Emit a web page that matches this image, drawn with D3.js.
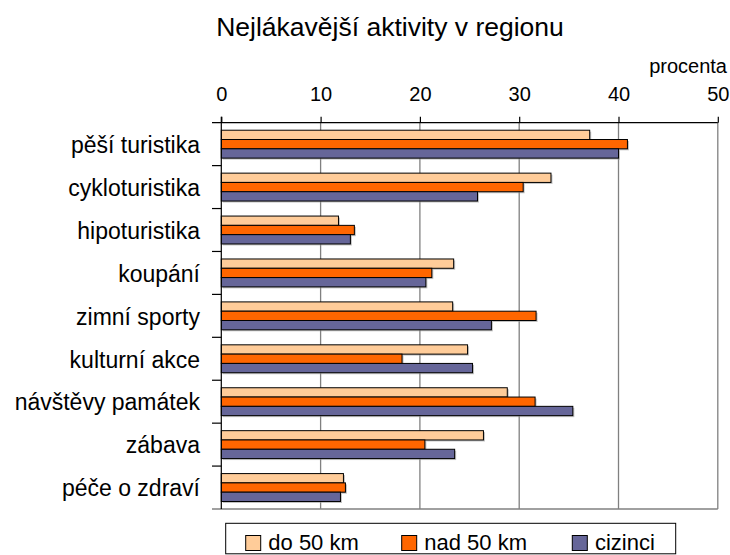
<!DOCTYPE html>
<html><head><meta charset="utf-8">
<script src="https://cdn.jsdelivr.net/npm/d3@7"></script>
<style>body{margin:0;background:#fff}svg{display:block;font-family:"Liberation Sans",Arial,sans-serif}</style>
</head><body><svg id="c" width="730" height="555"></svg>
<script>
const title = "Nejlákavější aktivity v regionu";
const unitLabel = "procenta";
const categories = ["pěší turistika","cykloturistika","hipoturistika","koupání","zimní sporty","kulturní akce","návštěvy památek","zábava","péče o zdraví"];
const seriesNames = ["do 50 km","nad 50 km","cizinci"];
const doPadesat = [37.1,33.2,11.8,23.4,23.3,24.8,28.8,26.4,12.3];
const nadPadesat = [40.9,30.4,13.4,21.2,31.7,18.2,31.6,20.5,12.5];
const cizinci = [40.0,25.8,13.0,20.6,27.2,25.3,35.4,23.5,12.0];
const tickValues = [0,10,20,30,40,50];
const colors = ["#FFCC99","#FF6600","#666699"];

const seriesValues = [doPadesat, nadPadesat, cizinci];
const svg = d3.select("#c");
const pLeft = 221.3, pRight = 717.8, pTop = 122.7, pBottom = 509;
const x = d3.scaleLinear().domain([0,50]).range([pLeft,pRight]);
const y0 = d3.scaleBand().domain(categories).range([pTop,pBottom]).padding(0);
const bw = y0.bandwidth();
const y1 = d3.scaleBand().domain(seriesNames).range([bw*0.175, bw*0.825]).padding(0);

// title
svg.append("text").attr("x",390).attr("y",36).attr("text-anchor","middle")
  .attr("font-size",26.5).attr("fill","#000").text(title);
svg.append("text").attr("x",727).attr("y",73).attr("text-anchor","end")
  .attr("font-size",20).attr("fill","#000").text(unitLabel);

// gridlines
svg.append("g").selectAll("line").data(tickValues.slice(1)).join("line")
  .attr("x1",d=>x(d)).attr("x2",d=>x(d)).attr("y1",pTop).attr("y2",pBottom)
  .attr("stroke","#808080").attr("stroke-width",1.3);

// top axis
const xAxis = d3.axisTop(x).tickValues(tickValues).tickSize(6).tickPadding(15.7);
const gx = svg.append("g").attr("transform",`translate(0,${pTop})`).call(xAxis);
gx.select(".domain").remove();
gx.selectAll(".tick line").attr("stroke","#000").attr("stroke-width",1.2);
gx.selectAll(".tick text").attr("font-size",20).attr("fill","#000")
  .attr("font-family","Liberation Sans, Arial, sans-serif");
svg.append("line").attr("x1",212).attr("x2",pRight).attr("y1",pTop).attr("y2",pTop)
  .attr("stroke","#000").attr("stroke-width",1.2);
// bottom line
svg.append("line").attr("x1",212).attr("x2",pRight).attr("y1",pBottom).attr("y2",pBottom)
  .attr("stroke","#808080").attr("stroke-width",1.3);

// left axis
const yAxis = d3.axisLeft(y0).tickSize(0).tickPadding(21.3);
const gy = svg.append("g").attr("transform",`translate(${pLeft},0)`).call(yAxis);
gy.select(".domain").remove();
gy.selectAll(".tick text").attr("font-size",23).attr("fill","#000").attr("dy","0.38em")
  .attr("font-family","Liberation Sans, Arial, sans-serif");
// category separators
svg.append("g").selectAll("line").data(categories.slice(1)).join("line")
  .attr("x1",212).attr("x2",pLeft).attr("y1",d=>y0(d)).attr("y2",d=>y0(d))
  .attr("stroke","#000").attr("stroke-width",1.2);

// bars
const rows = categories.map((c,i)=>({c, vals: seriesNames.map((s,j)=>({s, j, v: seriesValues[j][i]}))}));
const g = svg.append("g").selectAll("g").data(rows).join("g")
  .attr("transform",d=>`translate(0,${y0(d.c)})`);
g.selectAll("rect.sh").data(d=>d.vals).join("rect").attr("class","sh")
  .attr("x",pLeft+1.5).attr("y",d=>y1(d.s)+1.5)
  .attr("width",d=>x(d.v)-pLeft).attr("height",y1.bandwidth())
  .attr("fill","#999").attr("opacity",0.6);
g.selectAll("rect.b").data(d=>d.vals).join("rect").attr("class","b")
  .attr("x",pLeft).attr("y",d=>y1(d.s))
  .attr("width",d=>x(d.v)-pLeft).attr("height",y1.bandwidth())
  .attr("fill",d=>colors[d.j]).attr("stroke","#000").attr("stroke-width",1);

// y axis line at 0
svg.append("line").attr("x1",pLeft).attr("x2",pLeft).attr("y1",pTop-6).attr("y2",pBottom)
  .attr("stroke","#000").attr("stroke-width",1.2);

// legend
const lg = svg.append("g");
lg.append("rect").attr("x",225.7).attr("y",523.3).attr("width",450).attr("height",30.5)
  .attr("fill","#fff").attr("stroke","#000").attr("stroke-width",1);
const legX = [245.7, 401.7, 572.3];
const items = lg.selectAll("g").data(seriesNames).join("g")
  .attr("transform",(d,i)=>`translate(${legX[i]},535.5)`);
items.append("rect").attr("width",15).attr("height",15)
  .attr("fill",(d,i)=>colors[i]).attr("stroke","#000").attr("stroke-width",1);
items.append("text").attr("x",22.6).attr("y",14.5).attr("font-size",22).attr("fill","#000").text(d=>d);
</script></body></html>
